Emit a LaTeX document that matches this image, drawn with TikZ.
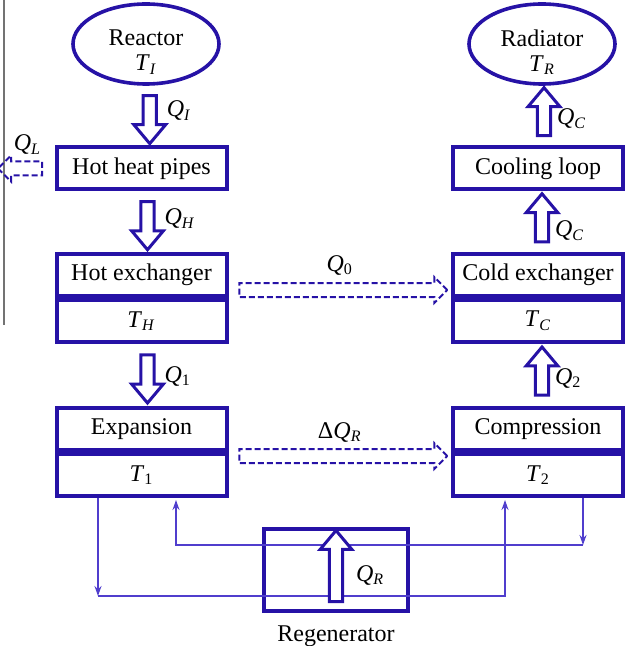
\documentclass[tikz,border=0pt]{standalone}
\usepackage{fontspec}
\setmainfont{Liberation Serif}
\usetikzlibrary{positioning,shapes.geometric,shapes.arrows,arrows.meta,calc}

\definecolor{azul}{RGB}{38,18,166}
\definecolor{azulclaro}{RGB}{80,62,205}
\newcommand{\magit}[2]{\textit{#1}\textsubscript{\textit{#2}}}
\newcommand{\magnum}[2]{\textit{#1}\textsubscript{#2}}

\begin{document}
\begin{tikzpicture}[
    x=0.5pt,
    y=-0.5pt,
    font=\fontsize{12}{12.5}\selectfont,
    caja/.style={draw=azul, line width=2pt, minimum width=85pt, minimum height=21pt, inner sep=0pt},
    deposito/.style={draw=azul, ellipse, line width=1.8pt, minimum width=73pt, minimum height=40pt, inner sep=0pt},
    flecha/.style={single arrow, draw=azul, fill=white, line width=1.5pt, inner xsep=0pt, inner ysep=2.6pt,
        single arrow head extend=4.6pt, single arrow tip angle=80, minimum height=24pt},
    fuga/.style={single arrow, draw=azul, dash pattern=on 3pt off 1.5pt, line width=1pt, inner xsep=0pt, inner ysep=3pt,
        single arrow head extend=3pt},
    linea/.style={draw=azulclaro, line width=0.7pt, -{Stealth[length=5pt, width=3.5pt]}},
    flujo/.style={anchor=west}
]
\useasboundingbox (0,0) rectangle (625,646);

% Borde de la pagina
\draw[black!55, line width=0.6pt] (4,0) -- (4,325);

% Fuente y sumidero
\node[deposito] (reactor) at (146,44) {};
\node[align=center] (lreactor) at ($(reactor.center)+(0,8)$) {Reactor\\\magit{T}{I}};
\node[deposito] (radiator) at (542,44) {};
\node[align=center] (lradiator) at ($(radiator.center)+(0,8)$) {Radiator\\\magit{T}{R}};

% Cajas simples
\node[caja] (pipes) at (141.5,168.5) {Hot heat pipes};
\node[caja] (cooling) at (538,168.5) {Cooling loop};

% Cajas con temperatura / nombre / temperatura / x / y
\foreach \nom/\txt/\temp/\x/\y in {
    hotex/Hot exchanger/{\magit{T}{H}}/141.5/275,
    coldex/Cold exchanger/{\magit{T}{C}}/538/275,
    expan/Expansion/{\magnum{T}{1}}/141.5/429,
    compr/Compression/{\magnum{T}{2}}/538/429}
{
    \node[caja] (\nom) at (\x,\y) {\txt};
    \node[caja, below=0pt of \nom] (\nom T) {\temp};
}

% Regenerador
\node[caja, minimum width=72pt, minimum height=41pt] (regen) at (336,570) {};
\node[below=3pt of regen] (lregen) {Regenerator};

% Circuito del gas
\coordinate (ida) at (98,596);
\coordinate (idaf) at (505,596);
\coordinate (vuelta) at (583,545);
\coordinate (vueltaf) at (176,545);
\draw[linea] (expanT.south -| ida) -- (ida);
\draw[linea, shorten >=1pt] (ida) -- (idaf) -- (idaf |- comprT.south);
\draw[linea] (comprT.south -| vuelta) -- (vuelta);
\draw[linea, shorten >=1pt] (vuelta) -- (vueltaf) -- (vueltaf |- expanT.south);

% Flujos de calor
\node[flecha, rotate=-90] (qi) at ($(reactor.south)!0.5!(pipes.north)+(6,0)$) {};
\node[flecha, rotate=-90] (qh) at ($(pipes.south)!0.5!(hotex.north)+(6,0)$) {};
\node[flecha, rotate=-90] (q1) at ($(hotexT.south)!0.5!(expan.north)+(6,0)$) {};
\node[flecha, rotate=90] (qc1) at ($(cooling.north)!0.5!(radiator.south)+(4,0)$) {};
\node[flecha, rotate=90] (qc2) at ($(coldex.north)!0.5!(cooling.south)+(4,0)$) {};
\node[flecha, rotate=90] (q2) at ($(compr.north)!0.5!(coldexT.south)+(4,0)$) {};
\node[flecha, rotate=90, minimum height=35.5pt] (qr) at (regen.center) {};

\node[flujo] (lqi) at ($(qi.center)+(10,-5)$) {\magit{Q}{I}};
\node[flujo] (lqh) at ($(qh.center)+(10,-3)$) {\magit{Q}{H}};
\node[flujo] (lq1) at ($(q1.center)+(10,1)$) {\magnum{Q}{1}};
\node[flujo] (lqc1) at ($(qc1.center)+(6,3)$) {\magit{Q}{C}};
\node[flujo] (lqc2) at ($(qc2.center)+(6,9)$) {\magit{Q}{C}};
\node[flujo] (lq2) at ($(q2.center)+(6,3)$) {\magnum{Q}{2}};
\node[flujo] (lqr) at ($(qr.center)+(13,5)$) {\magit{Q}{R}};

% Perdidas y fugas
\node[fuga, minimum height=22pt, rotate=180] (ql) at ($(pipes.west)+(-31,0)$) {};
\node[fuga, minimum height=104pt] (q0) at ($(hotex.south east)!0.5!(coldex.south west)+(0,-8)$) {};
\node[fuga, minimum height=104pt] (dqr) at ($(expan.south east)!0.5!(compr.south west)+(0,4)$) {};

\node (lql) at ($(ql.center)+(4,-24)$) {\magit{Q}{L}};
\node (lq0) at ($(q0.center)+(0,-25)$) {\magnum{Q}{0}};
\node (ldqr) at ($(dqr.center)+(0,-24)$) {Δ\magit{Q}{R}};

\end{tikzpicture}
\end{document}
